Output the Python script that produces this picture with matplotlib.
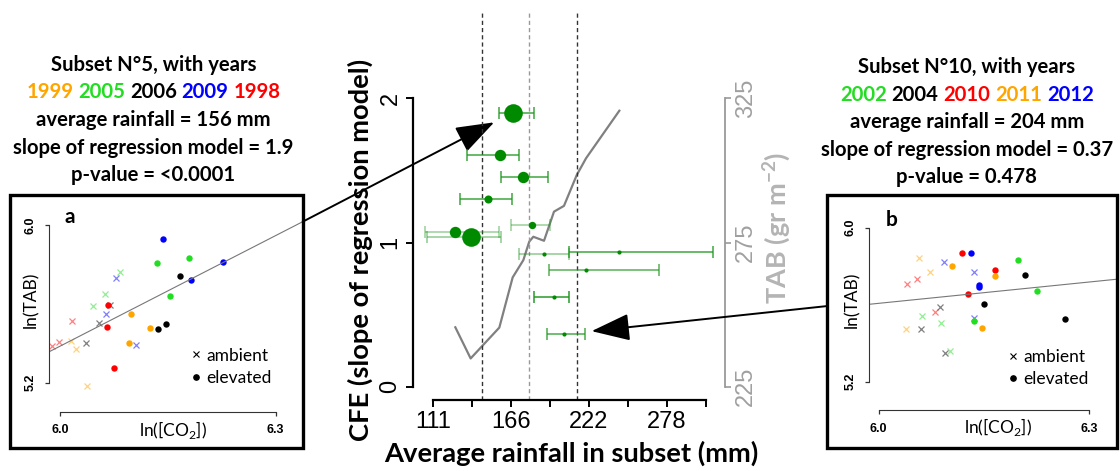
import matplotlib
matplotlib.use("Agg")
import matplotlib.pyplot as plt
from matplotlib.patches import Rectangle, ConnectionPatch
from matplotlib.lines import Line2D
from matplotlib import transforms

plt.rcParams['font.family'] = ['Liberation Sans', 'DejaVu Sans']
plt.rcParams['mathtext.fontset'] = 'custom'
plt.rcParams['mathtext.rm'] = 'Lato'
plt.rcParams['mathtext.bf'] = 'Lato:bold'

W, H = 1120, 471

# ---- central panel: CFE of each rainfall subset
rain = [167.9, 158.9, 175.0, 150.3, 181.9, 127.1, 138.5, 190.2, 243.6, 220.1, 197.3, 204.4]
cfe = [1.900, 1.607, 1.452, 1.300, 1.121, 1.075, 1.040, 0.922, 0.934, 0.807, 0.620, 0.365]
rain_lo = [158.4, 135.6, 159.8, 130.4, 166.9, 105.3, 106.7, 172.6, 207.8, 194.0, 183.1, 192.5]
rain_hi = [183.1, 172.6, 193.0, 167.2, 194.5, 158.4, 159.8, 207.8, 310.7, 271.8, 208.2, 219.6]
dot_size = [13.4, 8.2, 8.2, 5.8, 5.3, 8.2, 13.4, 3.0, 3.0, 3.0, 3.0, 3.0]
bar_alpha = [0.85, 0.85, 0.85, 0.85, 0.45, 0.45, 0.5, 0.5, 0.85, 0.75, 0.95, 0.8]

# TAB line (right axis)
tab_rain = [127.1, 138.0, 158.4, 167.9, 175.5, 179.7, 182.6, 190.2, 197.3, 204.4, 213.5, 220.1, 243.8]
tab = [245.6, 234.8, 245.5, 262.9, 268.9, 275.3, 277.0, 275.6, 285.7, 287.7, 298.4, 304.2, 320.7]

rain_cuts = [145.9, 179.7, 213.5]
cut_colors = ['#333333', '#999999', '#333333']

x_ticks = [111, 138.8, 166.5, 194.3, 222, 249.8, 277.5, 305.3]
x_ticklabels = ['111', '', '166', '', '222', '', '278', '']

# ---- inset a: subset 5
years_a = ['1999', '2005', '2006', '2009', '1998']
colors_a = ['#FFA500', '#22DD22', 'black', '#0000FF', '#FF0000']
elev_a_x = [[6.0983, 6.1252, 6.0964], [6.1353, 6.1790, 6.1530], [6.1669, 6.1367, 6.1470],
            [6.1433, 6.2272, 6.1822], [6.0668, 6.0650, 6.0755]]
elev_a_y = [[5.5500, 5.4774, 5.4028], [5.8087, 5.8341, 5.6413], [5.7428, 5.4708, 5.4992],
            [5.9290, 5.8108, 5.7210], [5.5926, 5.4840, 5.2730]]
amb_a_x = [[6.0157, 6.0218, 6.0380], [6.0835, 6.0630, 6.0459], [6.0696, 6.0538, 6.0362],
           [6.0783, 6.0644, 6.1057], [6.0163, 5.9982, 5.9885]]
amb_a_y = [[5.4130, 5.3694, 5.1847], [5.7631, 5.6484, 5.5906], [5.5926, 5.5043, 5.3998],
           [5.7296, 5.5485, 5.3927], [5.5145, 5.4049, 5.3876]]
reg_a_x = [5.9851, 6.3376]
reg_a_y = [5.3572, 6.0167]

# ---- inset b: subset 10
years_b = ['2002', '2004', '2010', '2011', '2012']
colors_b = ['#22DD22', 'black', '#FF0000', '#FFA500', '#0000FF']
elev_b_x = [[6.1980, 6.2250, 6.1361], [6.2088, 6.1495, 6.2653], [6.1182, 6.1661, 6.1276],
            [6.1044, 6.1652, 6.1467], [6.1319, 6.1433, 6.1433]]
elev_b_y = [[5.8312, 5.6686, 5.5127], [5.7532, 5.6026, 5.5247], [5.8691, 5.7777, 5.6561],
            [5.8016, 5.7481, 5.4795], [5.8691, 5.7013, 5.6909]]
amb_b_x = [[6.0621, 6.0887, 6.1015], [6.0873, 6.0598, 6.0948], [6.0550, 6.0399, 6.0802],
           [6.0574, 6.0735, 6.0389], [6.0934, 6.1357, 6.1361]]
amb_b_y = [[5.5418, 5.5055, 5.3600], [5.5886, 5.4743, 5.3465], [5.7325, 5.7081, 5.5626],
           [5.8400, 5.7688, 5.4743], [5.8192, 5.7673, 5.5283]]
reg_b_x = [5.9862, 6.3381]
reg_b_y = [5.601, 5.731]

info_a = ['Subset N°5, with years', 'average rainfall = 156 mm',
          'slope of regression model = 1.9', 'p-value = <0.0001']
info_b = ['Subset N°10, with years', 'average rainfall = 204 mm',
          'slope of regression model = 0.37', 'p-value = 0.478']


def box(l, t, r, b):
    return [l / W, 1 - b / H, (r - l) / W, (b - t) / H]


fig = plt.figure(figsize=(W / 100, H / 100), dpi=100)

# ---------------- central plot
ax = fig.add_axes(box(412.7, 11.7, 725, 400))
ax.set_xlim(96.77, 318.98)
ax.set_ylim(-0.0922, 2.6006)
for xc, c in zip(rain_cuts, cut_colors):
    ax.axvline(xc, color=c, lw=1.0, ls=(0, (3, 2.2)), zorder=1)

ax2 = ax.twinx()
ax2.set_ylim(225 - 0.0922 * 50, 225 + 2.6006 * 50)
ax2.plot(tab_rain, tab, color='#808080', lw=1.6, zorder=2)

for i in range(len(rain)):
    ax.errorbar(rain[i], cfe[i], xerr=[[rain[i] - rain_lo[i]], [rain_hi[i] - rain[i]]],
                fmt='none', ecolor='#1f961f', alpha=bar_alpha[i], elinewidth=1.1,
                capsize=4, capthick=1.1, zorder=3)
    ax.plot(rain[i], cfe[i], 'o', color='#008a00', ms=dot_size[i], mec='none', zorder=4)
ax.set_zorder(ax2.get_zorder() + 1)
ax.patch.set_visible(False)

for s in ['top', 'right']:
    ax.spines[s].set_visible(False)
ax.spines['left'].set_bounds(0, 2)
ax.spines['bottom'].set_bounds(111, 305.3)
ax.spines['left'].set_linewidth(1.6)
ax.spines['bottom'].set_linewidth(1.6)
ax.set_yticks([0, 1, 2])
ax.set_xticks(x_ticks)
ax.set_xticklabels(x_ticklabels)
ax.tick_params(axis='y', length=5, width=1.4, labelsize=17, pad=3, labelrotation=90)
for lab in ax.get_yticklabels():
    lab.set_va('center')
ax.tick_params(axis='x', length=5, width=1.4, labelsize=17, pad=3)

for s in ['top', 'left', 'bottom']:
    ax2.spines[s].set_visible(False)
ax2.spines['right'].set_bounds(225, 325)
ax2.spines['right'].set_color('#9a9a9a')
ax2.spines['right'].set_linewidth(1.3)
ax2.set_yticks([225, 275, 325])
ax2.tick_params(axis='y', colors='#9a9a9a', length=4, width=1.2, labelsize=17,
                pad=3, labelrotation=90)
for lab in ax2.get_yticklabels():
    lab.set_va('center')
    lab.set_color('#a0a0a0')

fig.text(571 / W, 1 - 453 / H, 'Average rainfall in subset (mm)', family='Lato',
         weight='bold', fontsize=19.7, ha='center', va='center')
fig.text(360 / W, 1 - 250 / H, 'CFE (slope of regression model)', family='Lato',
         weight='bold', fontsize=19.7, ha='center', va='center', rotation=90)
fig.text(777 / W, 1 - 228 / H, r'TAB (gr m$^{\mathbf{-2}}$)', family='Lato', weight='bold',
         fontsize=19.5, ha='center', va='center', rotation=90, color='#b4b4b4')


# ---------------- insets
def inset(rect, xlim, ylim, ex, ey, axx, axy, cols, rx, ry, letter, letter_xy, leg_xy,
          ylab_x, xlab_xy):
    a = fig.add_axes(rect)
    a.set_xlim(*xlim)
    a.set_ylim(*ylim)
    for xs, ys, c in zip(axx, axy, cols):
        a.plot(xs, ys, 'x', color=c, alpha=0.5, ms=5, mew=0.9, ls='none')
    for xs, ys, c in zip(ex, ey, cols):
        a.plot(xs, ys, 'o', color=c, ms=4.6, mec='none', ls='none')
    a.plot(rx, ry, color='#777777', lw=0.8)
    a.patch.set_visible(False)
    for s in ['top', 'right']:
        a.spines[s].set_visible(False)
    a.spines['left'].set_bounds(5.2, 6.0)
    a.spines['bottom'].set_bounds(6.0, 6.3)
    a.spines['left'].set_color('#333333')
    a.spines['bottom'].set_color('#333333')
    a.set_yticks([5.2, 6.0])
    a.set_yticklabels(['5.2', '6.0'])
    a.set_xticks([6.0, 6.3])
    a.set_xticklabels(['6.0', '6.3'])
    a.tick_params(axis='both', length=3, width=0.9, labelsize=9, color='#333333')
    a.tick_params(axis='y', labelrotation=90, pad=6)
    a.tick_params(axis='x', pad=6)
    for lab in a.get_yticklabels() + a.get_xticklabels():
        lab.set_fontweight('bold')
    for lab in a.get_yticklabels():
        lab.set_va('center')
    fig.text(ylab_x / W, 1 - 300 / H, 'ln(TAB)', family='Lato', fontsize=12.5,
             ha='center', va='center', rotation=90)
    fig.text(xlab_xy[0] / W, 1 - xlab_xy[1] / H, 'ln([CO$_2$])', family='Lato',
             fontsize=12.5, ha='center', va='center')
    fig.text(letter_xy[0] / W, 1 - letter_xy[1] / H, letter, family='Lato',
             weight='bold', fontsize=15, ha='center', va='center')
    handles = [Line2D([], [], marker='x', color='black', ls='none', ms=4, mew=0.8),
               Line2D([], [], marker='o', color='black', ls='none', ms=3.8)]
    a.legend(handles, ['ambient', 'elevated'], loc='center left',
             bbox_to_anchor=leg_xy, frameon=False, handlelength=0.5,
             handletextpad=0.35, labelspacing=0.35, borderpad=0, borderaxespad=0,
             prop={'family': 'Lato', 'size': 12.5})
    return a


ax_a = inset(box(49.3, 200, 302.7, 411.7), (5.98512, 6.33760), (5.0528, 6.1268),
             elev_a_x, elev_a_y, amb_a_x, amb_a_y, colors_a, reg_a_x, reg_a_y,
             'a', (70, 217), (0.56, 0.213), 31, (173, 430))
ax_b = inset(box(869, 200, 1116, 410.3), (5.98619, 6.33794), (5.0504, 6.1429),
             elev_b_x, elev_b_y, amb_b_x, amb_b_y, colors_b, reg_b_x, reg_b_y,
             'b', (892, 220), (0.565, 0.201), 852, (998, 427))

for l, t, r, b in [(10, 195, 302.7, 448), (827.3, 195, 1117.3, 448)]:
    fig.patches.append(Rectangle((l / W, 1 - b / H), (r - l) / W, (b - t) / H,
                                 transform=fig.transFigure, fill=False,
                                 lw=2.4, ec='black', zorder=5))

# ---------------- text blocks
renderer = fig.canvas.get_renderer()


def text_width(s, **kw):
    t = fig.text(0, 0, s, **kw)
    w = t.get_window_extent(renderer).width
    t.remove()
    return w


tkw = dict(family='Lato', weight='bold', fontsize=14.6)


def info_block(xc, ys, lines, years, cols):
    fig.text(xc / W, 1 - ys[0] / H, lines[0], ha='center', va='center', **tkw)
    full = ' '.join(years)
    x0 = xc - text_width(full, **tkw) / 2
    for k, (yr, c) in enumerate(zip(years, cols)):
        xk = x0 + text_width(' '.join(years[:k + 1]), **tkw) - text_width(yr, **tkw)
        fig.text(xk / W, 1 - ys[1] / H, yr, ha='left', va='center', color=c, **tkw)
    for s, y in zip(lines[1:], ys[2:]):
        fig.text(xc / W, 1 - y / H, s, ha='center', va='center', **tkw)


info_block(153.3, [65, 92, 120, 148, 175], info_a, years_a, colors_a)
info_block(966.7, [67, 95, 122, 150, 177], info_b, years_b, colors_b)

# ---------------- arrows
head = dict(arrowstyle='-|>,head_length=24,head_width=8.5', mutation_scale=1,
            lw=1.4, color='black', fc='black')
arr_a = ConnectionPatch(xyA=(reg_a_x[1], reg_a_y[1]), coordsA=ax_a.transData,
                        xyB=(rain[0], cfe[0]), coordsB=ax.transData,
                        shrinkB=15, **head)
fig.add_artist(arr_a)
start_b = transforms.blended_transform_factory(fig.transFigure, ax_b.transData)
arr_b = ConnectionPatch(xyA=(827.3 / W, 5.592), coordsA=start_b,
                        xyB=(rain[11], cfe[11]), coordsB=ax.transData,
                        shrinkB=20, **head)
fig.add_artist(arr_b)

fig.savefig('out.png', dpi=100)
